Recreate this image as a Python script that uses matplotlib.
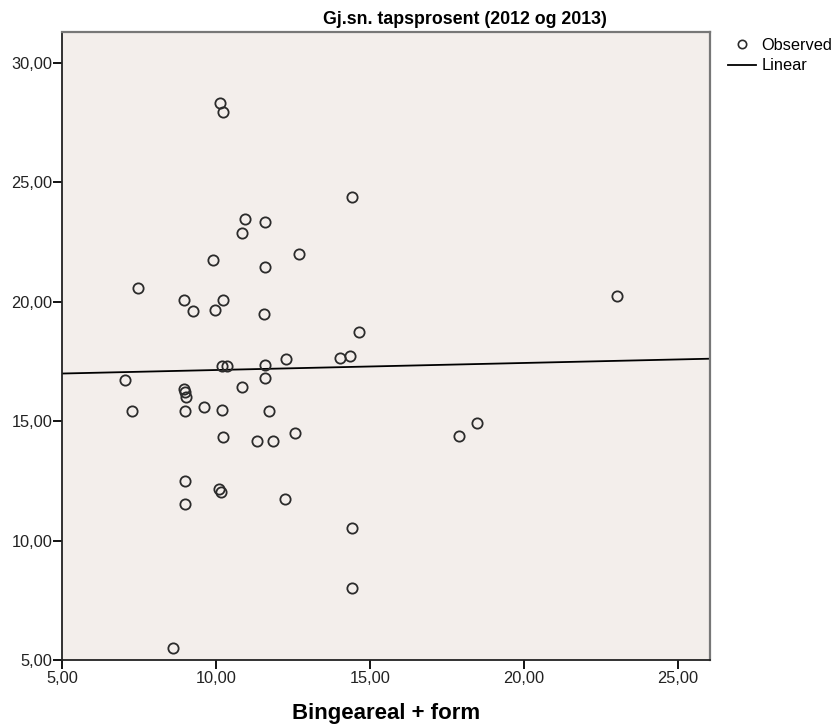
import matplotlib

matplotlib.use("Agg")
import matplotlib.pyplot as plt
from matplotlib.lines import Line2D
from matplotlib.ticker import FuncFormatter

# Observed points
bingeareal = [
    10.14, 10.24, 14.41, 10.95, 11.58, 10.83, 9.89, 12.68, 11.58, 7.47,
    8.96, 10.24, 9.26, 9.98, 11.55, 23.02, 14.66, 12.29, 14.03, 14.35,
    10.20, 10.35, 11.58, 7.05, 11.58, 10.84, 8.97, 8.98, 9.03, 7.28,
    8.99, 9.62, 10.20, 11.73, 10.22, 11.32, 11.86, 12.55, 17.89, 18.46,
    8.99, 10.09, 10.15, 8.99, 12.24, 14.43, 14.43, 8.61,
]
tapsprosent = [
    28.31, 27.96, 24.38, 23.47, 23.34, 22.87, 21.76, 22.00, 21.46, 20.58,
    20.06, 20.08, 19.60, 19.64, 19.49, 20.24, 18.75, 17.62, 17.65, 17.73,
    17.32, 17.32, 17.37, 16.71, 16.80, 16.42, 16.36, 16.22, 16.03, 15.43,
    15.44, 15.61, 15.47, 15.43, 14.33, 14.16, 14.16, 14.51, 14.38, 14.94,
    12.50, 12.15, 12.03, 11.53, 11.74, 10.54, 8.00, 5.52,
]

# Linear fit as drawn (intercept, slope)
fit_intercept = 16.85
fit_slope = 0.0295

x_ticks = [5, 10, 15, 20, 25]
y_ticks = [5, 10, 15, 20, 25, 30]

fig = plt.figure(figsize=(8.34, 7.26), dpi=100)
plt.rcParams["font.family"] = ["Liberation Sans", "DejaVu Sans"]
ax = fig.add_axes([0.0743, 0.0909, 0.777, 0.865])
ax.set_facecolor("#F3EEEB")

ax.plot(bingeareal, tapsprosent, linestyle="", marker="o", markersize=7.4,
        markerfacecolor="none", markeredgecolor="#2b2b2b", markeredgewidth=1.3,
        zorder=3)

xlim = (5, 26.04)
ax.plot(xlim, [fit_intercept + fit_slope * v for v in xlim], color="black",
        linewidth=1.3, zorder=2)

ax.set_xlim(*xlim)
ax.set_ylim(5, 31.3)
ax.set_xticks(x_ticks)
ax.set_yticks(y_ticks)
comma = FuncFormatter(lambda v, _: f"{v:.2f}".replace(".", ","))
ax.xaxis.set_major_formatter(comma)
ax.yaxis.set_major_formatter(comma)
ax.tick_params(direction="out", length=6.5, width=1.3, labelsize=11.8,
               colors="black", labelcolor="#222222")
ax.tick_params(axis="y", pad=0.5)
ax.tick_params(axis="x", pad=1.5)

for side in ("left", "bottom"):
    ax.spines[side].set_color("#222222")
    ax.spines[side].set_linewidth(1.3)
for side in ("top", "right"):
    ax.spines[side].set_color("#777777")
    ax.spines[side].set_linewidth(1.6)

fig.text(465 / 834, 1 - 19 / 726, "Gj.sn. tapsprosent (2012 og 2013)",
         ha="center", va="center", fontsize=12.8, fontweight="bold")
fig.text(386 / 834, 1 - 713 / 726, "Bingeareal + form", ha="center",
         va="center", fontsize=16, fontweight="bold")

handles = [
    Line2D([], [], linestyle="", marker="o", markersize=6, markerfacecolor="none",
           markeredgecolor="#2b2b2b", markeredgewidth=1.2),
    Line2D([], [], color="black", linewidth=1.3),
]
fig.legend(handles, ["Observed", "Linear"], loc="upper left",
           bbox_to_anchor=(728 / 834, 1 - 38 / 726), frameon=False,
           fontsize=11.8, handlelength=1.7, handletextpad=0.35,
           labelspacing=0.32, borderpad=0, borderaxespad=0)

fig.savefig("out.png", dpi=100, facecolor="white")
